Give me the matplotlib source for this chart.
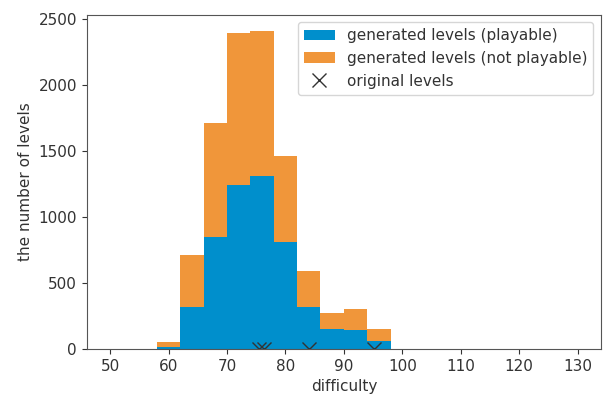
import numpy as np
import matplotlib
matplotlib.use('Agg')
import matplotlib.pyplot as plt

# histogram bins (difficulty), width 4 from 50 to 130
bin_edges = np.arange(50, 134, 4)
bin_centers = (bin_edges[:-1] + bin_edges[1:]) / 2

# counts per bin (bins 50-54 ... 126-130)
playable = [0, 0, 15, 320, 850, 1240, 1310, 810, 320, 155, 145, 60,
            0, 0, 0, 0, 0, 0, 0, 0]
not_playable = [0, 0, 35, 395, 860, 1150, 1100, 650, 270, 115, 160, 95,
                0, 0, 0, 0, 0, 0, 0, 0]

# difficulty of the original levels
original = [75.4, 76.3, 84.1, 95.1]

blue = '#008FCC'
orange = '#F0963A'

plt.rcParams['font.size'] = 11
plt.rcParams['axes.edgecolor'] = '#555555'
plt.rcParams['text.color'] = '#333333'
plt.rcParams['axes.labelcolor'] = '#333333'
plt.rcParams['xtick.color'] = '#333333'
plt.rcParams['ytick.color'] = '#333333'

fig = plt.figure(figsize=(6.04, 3.94), dpi=100)
ax = fig.add_axes([86.7 / 604, 1 - 349 / 394, (601 - 86.7) / 604, (349 - 14.7) / 394])

ax.hist([bin_centers, bin_centers], bins=bin_edges, weights=[playable, not_playable],
        stacked=True, color=[blue, orange],
        label=['generated levels (playable)', 'generated levels (not playable)'])
ax.plot(original, np.zeros(len(original)), 'x', color='#333333', markersize=10,
        linestyle='none', label='original levels')

ax.set_xlabel('difficulty')
ax.set_ylabel('the number of levels')
ax.set_ylim(0, 2532)
ax.set_xticks(np.arange(50, 131, 10))
ax.legend(loc='upper right')

fig.savefig('out.png', dpi=100)
